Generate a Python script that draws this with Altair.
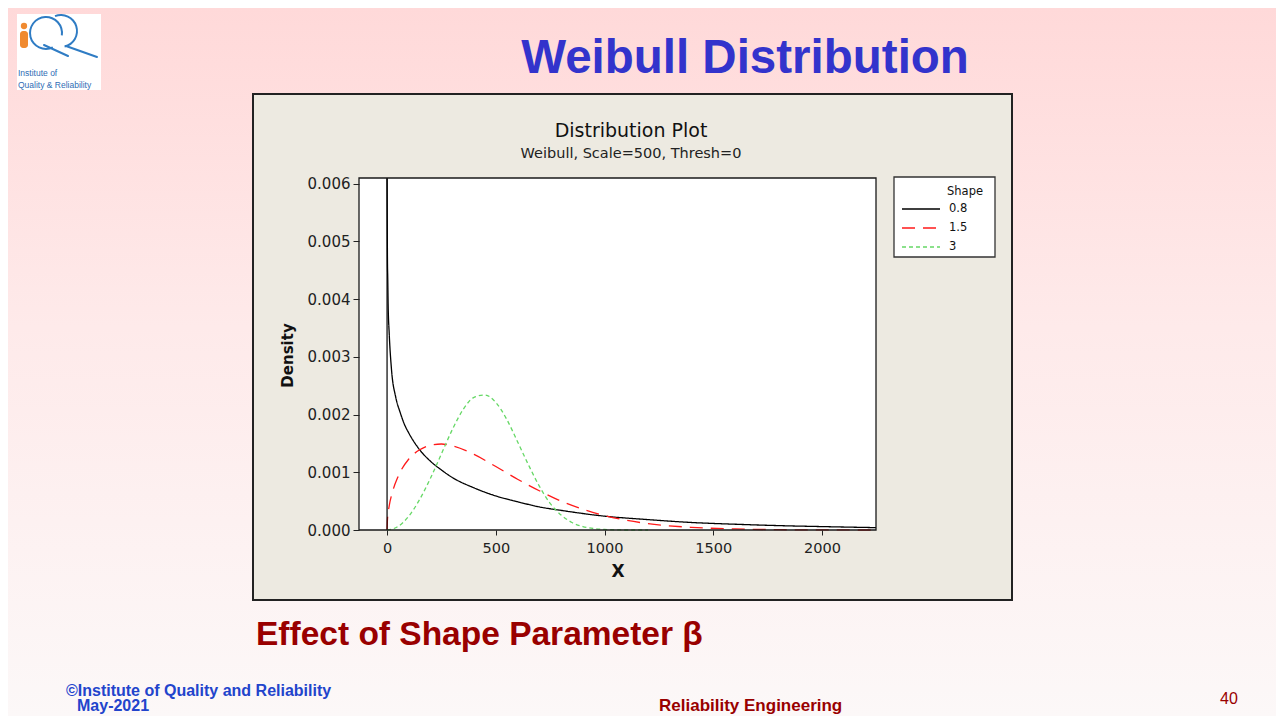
import altair as alt
import pandas as pd

# ---------------- data ----------------
shapes = ["0.8", "1.5", "3"]
line_colors = ["#000000", "#FF1A1A", "#66D866"]
line_dashes = [[1, 0], [13, 8], [4, 3]]

x_08 = [0, 2, 3, 5, 10, 20, 40, 60, 80, 100, 150, 200, 250, 300, 400, 500, 600,
        700, 800, 1000, 1200, 1400, 1600, 1800, 2000, 2248]
y_08 = [0.0061, 0.0046, 0.0044, 0.0039, 0.0034, 0.0028, 0.0023, 0.00204, 0.00183,
        0.00168, 0.00139, 0.00119, 0.00104, 0.00091, 0.00073, 0.00059, 0.00049,
        0.00040, 0.00034, 0.00024, 0.00018, 0.00013, 0.00010, 0.000076, 0.000059,
        0.000041]

x_15 = [0, 2, 10, 25, 50, 100, 150, 200, 250, 300, 400, 500, 600, 700, 800, 900,
        1000, 1100, 1200, 1400, 1600, 1800, 2000, 2248]
y_15 = [0, 0.00019, 0.00042, 0.00066, 0.00092, 0.00123, 0.00139, 0.00147, 0.00149,
        0.00146, 0.00131, 0.00110, 0.00088, 0.00068, 0.00050, 0.00036, 0.00025,
        0.00017, 0.00011, 0.000046, 0.000018, 0.000006, 0.000002, 0.0]

x_3 = [0, 50, 100, 150, 200, 250, 300, 350, 400, 450, 500, 550, 600, 650, 700, 750,
       800, 850, 900, 1000, 1100, 1200]
y_3 = [0, 0.00006, 0.00024, 0.00053, 0.00090, 0.00132, 0.00174, 0.00209, 0.00230,
       0.00234, 0.00221, 0.00192, 0.00153, 0.00113, 0.00076, 0.00046, 0.00026,
       0.00013, 0.00006, 0.00001, 0.0, 0.0]

x_ticks = [0, 500, 1000, 1500, 2000]
y_ticks = [0.000, 0.001, 0.002, 0.003, 0.004, 0.005, 0.006]
x_domain = [-129, 2248]
y_domain = [0, 0.0061]

# ---------------- build table ----------------
rows = []
for s, xs, ys in zip(shapes, [x_08, x_15, x_3], [y_08, y_15, y_3]):
    for i, (a, b) in enumerate(zip(xs, ys)):
        rows.append({"Shape": s, "x": a, "y": b, "idx": i})
df = pd.DataFrame(rows)
one = pd.DataFrame({"k": [0]})

# ---------------- layout (reference pixels) ----------------
W, H = 1268, 708
PLX, PLY = 359, 178          # plot area origin in reference pixels
PW, PH = 517, 352


def px(x):
    return x - PLX


def py(y):
    return y - PLY


def rect(x1, y1, x2, y2, **mk):
    return alt.Chart(one).mark_rect(**mk).encode(
        x=alt.value(px(x1)), x2=alt.value(px(x2)),
        y=alt.value(py(y1)), y2=alt.value(py(y2)))


def text(t, x, y, size, color, weight="normal", font="Liberation Sans",
         align="left", baseline="alphabetic", angle=0):
    return alt.Chart(one).mark_text(
        text=t, fontSize=size, color=color, fontWeight=weight, font=font,
        align=align, baseline=baseline, angle=angle).encode(
        x=alt.value(px(x)), y=alt.value(py(y)))


def seg(x1, y1, x2, y2, color, w):
    return alt.Chart(one).mark_rule(color=color, strokeWidth=w, strokeCap="round").encode(
        x=alt.value(px(x1)), x2=alt.value(px(x2)),
        y=alt.value(py(y1)), y2=alt.value(py(y2)))


grad = alt.LinearGradient(
    gradient="linear",
    stops=[alt.GradientStop(color="#FFD9D9", offset=0),
           alt.GradientStop(color="#FEEAEA", offset=0.45),
           alt.GradientStop(color="#FCF8F8", offset=1)],
    x1=0, x2=0, y1=0, y2=1)

background = alt.Chart(one).mark_rect(fill=grad).encode(
    x=alt.value(-PLX + 8), x2=alt.value(W - PLX + 8),
    y=alt.value(-PLY + 8), y2=alt.value(H - PLY + 8))

panel = rect(253, 94, 1012, 600, fill="#EDEAE1", stroke="#222222", strokeWidth=2)
inner = rect(PLX, PLY, PLX + PW, PLY + PH, fill="white")

# logo
logo_box = rect(17, 14, 101, 90, fill="white")
logo_dot = alt.Chart(one).mark_point(filled=True, color="#F08A30", size=40, opacity=1).encode(
    x=alt.value(px(24)), y=alt.value(py(26)))
logo_body = rect(20, 31, 28, 48, fill="#F08A30", cornerRadius=3)
logo_arc1 = alt.Chart(one).mark_arc(color="#2F7CC4", radius=17, radius2=15,
                                    theta=2.7, theta2=8.0).encode(
    x=alt.value(px(46)), y=alt.value(py(33)))
logo_arc2 = alt.Chart(one).mark_arc(color="#2F7CC4", radius=17, radius2=15,
                                    theta=5.9, theta2=9.2).encode(
    x=alt.value(px(61)), y=alt.value(py(31)))
logo_t1 = seg(44, 45, 68, 56, "#2F7CC4", 2)
logo_t2 = seg(66, 46, 97, 57, "#2F7CC4", 2)
logo_txt1 = text("Institute of", 18, 76, 8.5, "#2F6DB5")
logo_txt2 = text("Quality & Reliability", 18, 88, 8.5, "#2F6DB5")

title = text("Weibull Distribution", 745, 73, 47.5, "#3333CC", weight="bold", align="center")

ptitle = text("Distribution Plot", 631, 137, 19, "#111111", font="DejaVu Sans", align="center")
psub = text("Weibull, Scale=500, Thresh=0", 631, 158, 14.5, "#222222", font="DejaVu Sans",
            align="center")

# curves
curves = alt.Chart(df).mark_line(strokeWidth=1.3, interpolate="monotone").encode(
    x=alt.X("x:Q", scale=alt.Scale(domain=x_domain, nice=False, zero=False),
            axis=alt.Axis(values=x_ticks, format="d", title="X", domain=False, grid=False,
                          tickColor="#222222", tickSize=5, labelFont="DejaVu Sans",
                          labelFontSize=14.5, labelColor="#222222", labelPadding=6,
                          titleFont="DejaVu Sans", titleFontSize=17, titleFontWeight="bold",
                          titleColor="#111111", titleY=41, titleBaseline="middle",
                          zindex=1)),
    y=alt.Y("y:Q", scale=alt.Scale(domain=y_domain, nice=False, zero=False),
            axis=alt.Axis(values=y_ticks, format=".3f", title="Density", domain=False,
                          grid=False, tickColor="#222222", tickSize=6,
                          labelFont="DejaVu Sans", labelFontSize=15, labelColor="#222222",
                          labelPadding=3, titleFont="DejaVu Sans", titleFontSize=15,
                          titleFontWeight="bold", titleColor="#111111", titleX=-72,
                          titleY=177, titleAngle=270, titleAlign="center",
                          titleBaseline="middle", zindex=1)),
    color=alt.Color("Shape:N", scale=alt.Scale(domain=shapes, range=line_colors),
                    legend=alt.Legend(title=None, orient="none", legendX=542, legendY=21.5)),
    strokeDash=alt.StrokeDash("Shape:N", scale=alt.Scale(domain=shapes, range=line_dashes),
                              legend=alt.Legend(title=None, orient="none", legendX=542,
                                                legendY=21.5)),
    order=alt.Order("idx:Q"),
)

zero_rule = alt.Chart(one).mark_rule(color="black", strokeWidth=1.2).encode(
    x=alt.datum(0), y=alt.datum(y_domain[0]), y2=alt.datum(y_domain[1]))

frame = rect(PLX, PLY, PLX + PW, PLY + PH, fill="white", fillOpacity=0,
             stroke="#1A1A1A", strokeWidth=1.3)

legend_box = rect(894, 177, 995, 257, fill="white", stroke="#333333", strokeWidth=1.3)
legend_title = text("Shape", 965, 192, 11.5, "#111111", font="DejaVu Sans",
                    align="center", baseline="middle")

effect = text("Effect of Shape Parameter \u03b2", 256, 645, 33.5, "#990000", weight="bold")
foot1 = text("\u00a9Institute of Quality and Reliability", 66, 696, 16, "#2244CC",
             weight="bold")
foot2 = text("May-2021", 77, 711, 16, "#2244CC", weight="bold")
foot3 = text("Reliability Engineering", 659, 711, 17, "#990000", weight="bold")
foot4 = text("40", 1220, 704, 16, "#990000")

chart = alt.layer(
    background, panel, inner,
    logo_box, logo_dot, logo_body, logo_arc1, logo_arc2, logo_t1, logo_t2,
    logo_txt1, logo_txt2, title, ptitle, psub,
    legend_box, legend_title,
    curves, zero_rule, frame,
    effect, foot1, foot2, foot3, foot4,
).properties(
    width=PW, height=PH,
    autosize=alt.AutoSizeParams(type="none"),
    padding={"left": PLX - 8, "top": PLY - 8, "right": W - (PLX - 8) - PW,
             "bottom": H - (PLY - 8) - PH},
).configure(
    background="#FDF6F6",
).configure_view(
    stroke=None,
).configure_legend(
    symbolType="stroke", symbolSize=1444, symbolStrokeWidth=1.3, clipHeight=19,
    labelFont="DejaVu Sans", labelFontSize=11.5, labelColor="#111111", labelOffset=8,
    padding=0, rowPadding=0, symbolOffset=0,
)

chart.save("out.html", embed_options={"renderer": "svg", "actions": False})
